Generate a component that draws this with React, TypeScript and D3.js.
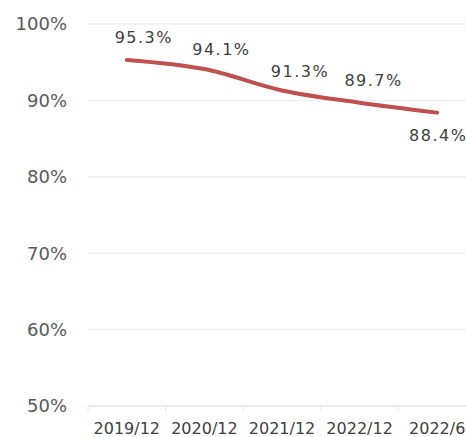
import React from "react";
import * as d3 from "d3";

const categories = ["2019/12", "2020/12", "2021/12", "2022/12", "2022/6"];
const values = [95.3, 94.1, 91.3, 89.7, 88.4];
const valueLabels = ["95.3%", "94.1%", "91.3%", "89.7%", "88.4%"];
const yTicks = [50, 60, 70, 80, 90, 100];

const W = 466;
const H = 437;
const FONT = "'DejaVu Sans', Verdana, sans-serif";

export default function App() {
  const x = d3.scaleBand<string>().domain(categories).range([88, 476]);
  const y = d3.scaleLinear().domain([50, 100]).range([406, 24]);
  const cx = (c: string) => (x(c) as number) + x.bandwidth() / 2;

  const line = d3
    .line<number>()
    .x((_, i) => cx(categories[i]))
    .y((d) => y(d))
    .curve(d3.curveCatmullRom.alpha(0.5));

  const labelDy = [-23, -20, -19, -22, 23];
  const labelDx = [17, 17, 18, 14, 1];

  return (
    <svg
      width={W}
      height={H}
      style={{ position: "absolute", left: 0, top: 0, background: "#fff" }}
      fontFamily={FONT}
    >
      {yTicks.map((t) => (
        <g key={t}>
          <line x1={88} x2={W} y1={y(t)} y2={y(t)} stroke={t === 50 ? "#e4e4e4" : "#efefef"} strokeWidth={1.5} />
          <text x={67} y={y(t)} dy="0.35em" textAnchor="end" fontSize={18} fill="#595959">
            {t}%
          </text>
        </g>
      ))}
      {categories.map((c) => (
        <line
          key={"tk" + c}
          x1={x(c) as number}
          x2={x(c) as number}
          y1={y(50)}
          y2={y(50) + 5}
          stroke="#e4e4e4"
        />
      ))}
      {categories.map((c) => (
        <text key={c} x={cx(c)} y={y(50) + 22} dy="0.35em" textAnchor="middle" fontSize={16} fill="#404040">
          {c}
        </text>
      ))}
      <path d={line(values) || ""} fill="none" stroke="#c0504d" strokeWidth={4} strokeLinecap="round" />
      {values.map((v, i) => (
        <text
          key={"l" + i}
          x={cx(categories[i]) + labelDx[i]}
          y={y(v) + labelDy[i]}
          dy="0.35em"
          textAnchor="middle"
          fontSize={16}
          letterSpacing={1.5}
          fill="#404040"
        >
          {valueLabels[i]}
        </text>
      ))}
    </svg>
  );
}
